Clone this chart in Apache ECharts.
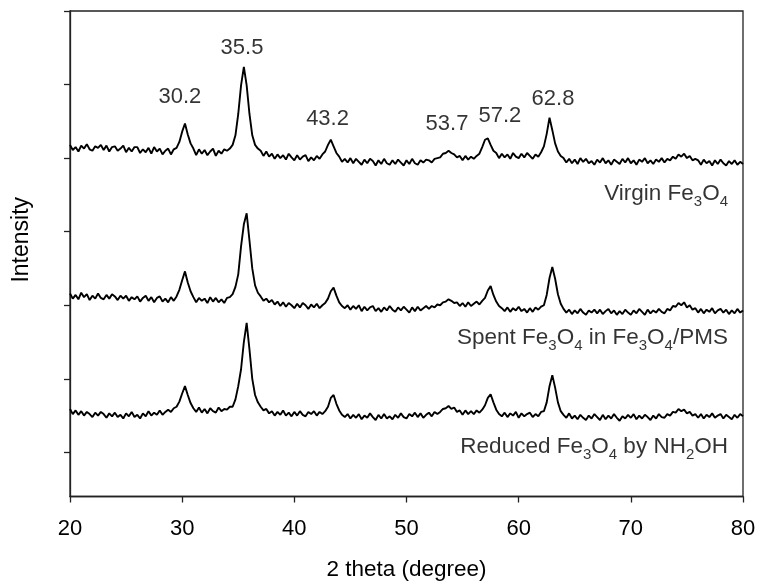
<!DOCTYPE html>
<html>
<head>
<meta charset="utf-8">
<script src="https://cdn.jsdelivr.net/npm/echarts/dist/echarts.min.js"></script>
<style>
  html, body { margin: 0; padding: 0; background: #fff; }
  #chart { width: 760px; height: 588px; }
</style>
</head>
<body>
<div id="chart"></div>
<script>
// 2 theta scan positions (degree)
const angles = [
  20,20.25,20.5,20.75, 21,21.25,21.5,21.75, 22,22.25,22.5,22.75, 23,23.25,23.5,23.75,
  24,24.25,24.5,24.75, 25,25.25,25.5,25.75, 26,26.25,26.5,26.75, 27,27.25,27.5,27.75,
  28,28.25,28.5,28.75, 29,29.25,29.5,29.75, 30,30.25,30.5,30.75, 31,31.25,31.5,31.75,
  32,32.25,32.5,32.75, 33,33.25,33.5,33.75, 34,34.25,34.5,34.75, 35,35.25,35.5,35.75,
  36,36.25,36.5,36.75, 37,37.25,37.5,37.75, 38,38.25,38.5,38.75, 39,39.25,39.5,39.75,
  40,40.25,40.5,40.75, 41,41.25,41.5,41.75, 42,42.25,42.5,42.75, 43,43.25,43.5,43.75,
  44,44.25,44.5,44.75, 45,45.25,45.5,45.75, 46,46.25,46.5,46.75, 47,47.25,47.5,47.75,
  48,48.25,48.5,48.75, 49,49.25,49.5,49.75, 50,50.25,50.5,50.75, 51,51.25,51.5,51.75,
  52,52.25,52.5,52.75, 53,53.25,53.5,53.75, 54,54.25,54.5,54.75, 55,55.25,55.5,55.75,
  56,56.25,56.5,56.75, 57,57.25,57.5,57.75, 58,58.25,58.5,58.75, 59,59.25,59.5,59.75,
  60,60.25,60.5,60.75, 61,61.25,61.5,61.75, 62,62.25,62.5,62.75, 63,63.25,63.5,63.75,
  64,64.25,64.5,64.75, 65,65.25,65.5,65.75, 66,66.25,66.5,66.75, 67,67.25,67.5,67.75,
  68,68.25,68.5,68.75, 69,69.25,69.5,69.75, 70,70.25,70.5,70.75, 71,71.25,71.5,71.75,
  72,72.25,72.5,72.75, 73,73.25,73.5,73.75, 74,74.25,74.5,74.75, 75,75.25,75.5,75.75,
  76,76.25,76.5,76.75, 77,77.25,77.5,77.75, 78,78.25,78.5,78.75, 79,79.25,79.5,79.75,
  80
];

// Virgin Fe3O4 (offset trace, arbitrary intensity units)
const virgin = [
  418,411,415,409, 417,413,419,412, 410,416,414,418, 411,417,409,415,
  416,410,413,417, 408,414,409,415, 415,407,412,408, 414,406,415,409,
  413,405,410,413, 405,412,414,422, 436,447,432,420, 413,404,412,406,
  411,404,409,413, 403,410,406,412, 410,413,418,431, 460,499,524,499,
  460,431,418,413, 410,403,409,402, 406,399,405,400, 404,398,406,401,
  397,404,398,402, 404,396,401,397, 403,399,405,409, 418,425,416,407,
  402,395,399,394, 400,393,399,395, 391,398,393,399, 396,390,397,392,
  399,393,391,397, 392,398,394,390, 397,392,399,393, 391,397,394,398,
  397,394,399,400, 401,406,407,410, 407,405,401,403, 397,403,398,402,
  399,403,406,415, 425,427,418,410, 407,400,406,401, 405,399,407,402,
  400,406,401,407, 403,399,405,402, 408,416,433,455, 438,420,409,403,
  400,394,399,393, 398,392,400,395, 399,393,396,391, 398,394,400,393,
  397,391,398,395, 392,399,394,400, 393,397,391,398, 395,400,393,397,
  392,398,395,400, 394,399,397,402, 399,405,402,406, 400,403,397,399,
  397,391,398,393, 396,390,397,392, 398,393,390,396, 392,397,391,395,
  392
];

// Spent Fe3O4 in Fe3O4/PMS
const spent = [
  216,209,214,208, 217,211,215,207, 213,209,216,210, 208,214,209,215,
  212,207,213,209, 213,206,211,208, 212,205,210,213, 206,211,204,210,
  212,205,209,204, 211,206,212,221, 234,246,231,219, 211,204,210,206,
  209,203,211,205, 210,204,208,203, 210,211,215,225, 242,280,310,325,
  288,250,227,217, 212,206,209,204, 207,201,205,199, 204,198,203,200,
  196,202,197,203, 200,195,201,197, 202,196,200,203, 209,219,224,213,
  204,199,196,200, 194,199,195,200, 192,198,193,197, 199,192,196,191,
  197,193,199,194, 191,197,193,198, 194,190,197,192, 198,193,196,199,
  195,199,197,201, 200,204,205,208, 206,203,204,199, 203,198,204,199,
  202,205,201,206, 210,220,226,214, 205,199,196,192, 197,191,196,193,
  198,192,195,190, 196,191,197,194, 198,200,214,237, 252,236,215,202,
  195,190,194,188, 193,189,195,190, 187,193,190,194, 189,194,188,192,
  195,189,193,187, 192,188,194,190, 187,193,189,195, 191,187,194,189,
  193,190,195,191, 189,195,193,199, 198,203,200,204, 197,200,194,196,
  190,195,189,194, 191,196,189,193, 195,190,194,188, 193,189,195,190,
  193
];

// Reduced Fe3O4 by NH2OH
const reduced = [
  59,52,57,51, 56,50,55,52, 48,54,50,55, 52,47,53,49,
  54,48,51,46, 53,49,55,48, 51,46,53,49, 56,50,54,51,
  57,51,55,58, 55,60,62,69, 80,90,78,67, 60,55,61,54,
  59,53,60,56, 54,61,56,59, 58,62,62,72, 90,113,150,176,
  140,100,78,68, 62,57,59,53, 56,50,55,51, 57,50,54,49,
  55,50,56,51, 49,55,52,56, 50,55,52,56, 62,74,78,66,
  57,51,48,52, 46,51,47,52, 45,50,47,53, 48,44,51,46,
  52,46,49,45, 51,47,53,48, 46,52,49,54, 48,53,47,51,
  54,49,55,52, 55,59,60,63, 59,61,55,57, 51,57,52,56,
  52,57,54,58, 64,74,79,68, 58,52,49,54, 48,53,50,55,
  47,53,49,52, 54,48,52,49, 55,56,68,90, 105,88,68,56,
  51,47,53,46, 50,45,51,47, 44,50,46,52, 48,44,51,45,
  50,46,52,47, 43,49,46,51, 47,52,45,50, 46,51,48,44,
  50,46,52,48, 47,52,50,55, 54,59,56,58, 53,55,50,52,
  47,52,46,51, 48,53,47,50, 52,46,51,48, 45,51,47,52,
  49
];

const yTickValues = [0, 100, 200, 300, 400, 500, 600];

// peak annotations: label text and anchor (2 theta, intensity)
const peakLabels = ['30.2', '35.5', '43.2', '53.7', '57.2', '62.8'];
const peakLabelAngle = [29.8, 35.33, 42.96, 53.61, 58.33, 63.06];
const peakLabelLevel = [483, 550, 453, 446, 457, 480];

// trace names (rich text with subscripts) and anchors
const traceNames = [
  '{m|Virgin Fe}{s|3}{m|O}{s|4}',
  '{m|Spent Fe}{s|3}{m|O}{s|4}{m| in Fe}{s|3}{m|O}{s|4}{m|/PMS}',
  '{m|Reduced Fe}{s|3}{m|O}{s|4}{m| by NH}{s|2}{m|OH}'
];
const traceNameAngle = [78.66, 78.66, 78.66];
const traceNameLevel = [352, 156, 8];

const FONT = '"Liberation Sans", Arial, Helvetica, sans-serif';

function toPairs(xs, ys) { return xs.map((x, i) => [x, ys[i]]); }

const lineSeries = [virgin, spent, reduced].map(vals => ({
  type: 'line',
  data: toPairs(angles, vals),
  showSymbol: false,
  symbol: 'none',
  silent: true,
  lineStyle: { color: '#000', width: 1.9 },
  z: 3
}));

const chart = echarts.init(document.getElementById('chart'), null, { renderer: 'canvas' });
chart.setOption({
  animation: false,
  backgroundColor: '#fff',
  grid: {
    left: 70, right: 17, top: 11, bottom: 91.5,
    show: true, borderColor: '#222', borderWidth: 1.3, backgroundColor: 'transparent'
  },
  xAxis: {
    type: 'value', min: 20, max: 80, interval: 10,
    name: '2 theta (degree)', nameLocation: 'middle', nameGap: 62,
    nameTextStyle: { fontFamily: FONT, fontSize: 22.5, color: '#000' },
    axisLine: { show: true, onZero: false, lineStyle: { color: '#222', width: 1.3 } },
    axisTick: { show: true, inside: false, length: 6, lineStyle: { color: '#222', width: 1.3 } },
    axisLabel: { fontFamily: FONT, fontSize: 22, color: '#000', margin: 21 },
    splitLine: { show: false }
  },
  yAxis: {
    type: 'value', min: -60, max: 600,
    name: 'Intensity', nameLocation: 'middle', nameGap: 37,
    nameTextStyle: { fontFamily: FONT, fontSize: 23, color: '#000', padding: [0, 0, 0, 28] },
    axisLine: { show: true, onZero: false, lineStyle: { color: '#222', width: 1.3 } },
    axisTick: { show: true, inside: false, length: 6, customValues: yTickValues, lineStyle: { color: '#222', width: 1.3 } },
    axisLabel: { show: false },
    splitLine: { show: false }
  },
  series: [
    ...lineSeries,
    {
      type: 'scatter',
      silent: true,
      symbolSize: 0,
      itemStyle: { color: '#000' },
      data: peakLabels.map((t, i) => ({ name: t, value: [peakLabelAngle[i], peakLabelLevel[i]] })),
      label: {
        show: true, position: 'inside', formatter: '{b}',
        fontFamily: FONT, fontSize: 22, color: '#000', textBorderWidth: 0
      },
      z: 5
    },
    {
      type: 'scatter',
      silent: true,
      symbolSize: 0,
      itemStyle: { color: '#000' },
      data: traceNames.map((t, i) => ({ name: t, value: [traceNameAngle[i], traceNameLevel[i]] })),
      label: {
        show: true, position: 'left', distance: 0, formatter: '{b}',
        align: 'right', verticalAlign: 'middle', color: '#000',
        rich: {
          m: { fontFamily: FONT, fontSize: 22.5, color: '#000', lineHeight: 22, verticalAlign: 'top' },
          s: { fontFamily: FONT, fontSize: 15, color: '#000', lineHeight: 15, verticalAlign: 'top', padding: [12, 0, 0, 0] }
        }
      },
      z: 5
    }
  ]
});
</script>
</body>
</html>
